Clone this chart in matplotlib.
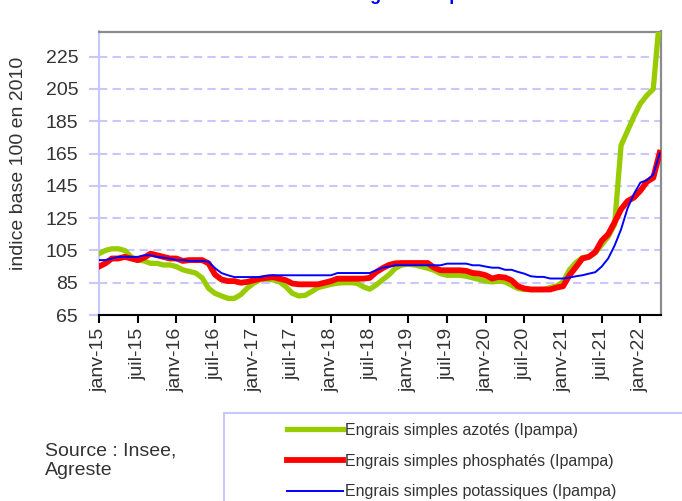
import numpy as np
import matplotlib
matplotlib.use("Agg")
import matplotlib.pyplot as plt
from matplotlib.patches import Rectangle

plt.rcParams['font.family'] = ['Liberation Sans', 'DejaVu Sans']

# Monthly index values, janv-2015 .. avr-2022 (base 100 en 2010)
azotes = [103, 105, 106, 106, 105, 101, 99, 98.5, 97, 97, 96, 96,
          95, 93, 92, 91, 88, 81.5, 78.4, 76.8, 75.3, 75.3, 77.6, 81.6,
          84.7, 86.8, 87.2, 86.8, 85.6, 82.5, 78.4, 76.8, 77.2, 79.5, 82, 83,
          84, 84.7, 85, 85, 84.7, 82.5, 81, 83.6, 86.8, 89.9, 94, 96,
          96.5, 96, 95, 94, 92.7, 90.6, 89.6, 89.6, 89.6, 89, 88, 87,
          86, 85.5, 86, 85.5, 83.5, 81.4, 80.8, 80.8, 80.8, 80.8, 82, 83,
          85.5, 93, 97.5, 100.5, 101, 103.5, 108.5, 113.5, 121, 170, 179, 188,
          196, 201, 205, 250]

phosphates = [95, 97, 100, 100, 101, 100, 99, 100.5, 103, 102, 101, 100,
              100, 98.5, 99, 99, 99, 97, 90, 87, 86, 86, 85, 85.5,
              86.5, 87.5, 88, 88.5, 87.5, 86.5, 84.5, 84, 84, 84, 84, 85,
              86, 87.5, 87.5, 87.5, 87.5, 87.5, 88, 91.5, 94, 96, 97, 97.2,
              97.2, 97.2, 97.2, 97.2, 94.3, 92.7, 92.7, 92.7, 92.7, 92.3, 91, 90.6,
              89.6, 87.6, 88.6, 88.2, 86.5, 82.8, 81.4, 80.8, 80.8, 80.8, 80.8, 82,
              82.8, 89.6, 94.7, 100, 101, 104, 111, 115, 122.4, 130.5, 135.5, 137.8,
              142, 147.5, 150, 165.5]

potassiques = [99, 99, 100, 101, 101, 101, 101, 102, 102, 101, 100.5, 100,
               99, 99, 98.5, 98.5, 98.5, 98, 94, 91, 89.6, 88.5, 88.5, 88.5,
               88.5, 88.5, 89.4, 89.6, 89.6, 89.6, 89.6, 89.6, 89.6, 89.6, 89.6, 89.6,
               89.6, 91, 91, 91, 91, 91, 91, 92.7, 94.3, 95, 95.8, 95.8,
               95.8, 95.8, 95.8, 95.8, 95.8, 95.8, 96.8, 96.8, 96.8, 96.8, 95.8, 95.8,
               95, 94.3, 94.3, 93, 93, 91.7, 90.6, 89, 88.6, 88.6, 87.6, 87.6,
               87.6, 88.2, 89, 89.6, 90.6, 91.5, 95, 100, 108, 118, 131, 140,
               147, 148.5, 152, 165]

tick_labels = ['janv-15', 'juil-15', 'janv-16', 'juil-16', 'janv-17', 'juil-17',
               'janv-18', 'juil-18', 'janv-19', 'juil-19', 'janv-20', 'juil-20',
               'janv-21', 'juil-21', 'janv-22']
y_ticks = [65, 85, 105, 125, 145, 165, 185, 205, 225]

series_names = ['Engrais simples azotés (Ipampa)',
                'Engrais simples phosphatés (Ipampa)',
                'Engrais simples potassiques (Ipampa)']

W, H = 682, 501
fig = plt.figure(figsize=(W / 100, H / 100), dpi=100)
ax = fig.add_axes([99 / W, 1 - 315 / H, (661 - 99) / W, (315 - 31.5) / H])

months = np.arange(len(azotes))
l1, = ax.plot(months, azotes, color='#99cc00', lw=3.8, solid_joinstyle='round', zorder=3)
l2, = ax.plot(months, phosphates, color='#ff0000', lw=4.2, solid_joinstyle='round', zorder=4)
l3, = ax.plot(months, potassiques, color='#0000ff', lw=1.4, zorder=5)

ax.set_xlim(0, 87.2)
ax.set_ylim(65, 240.6)

ax.set_yticks(y_ticks)
ax.set_yticklabels([str(v) for v in y_ticks])
ax.set_xticks(np.arange(0, 6 * len(tick_labels), 6))
ax.set_xticklabels(tick_labels)

ax.yaxis.grid(True, color='#c8c8ff', linestyle=(0, (4, 2.5)), lw=1.5)
ax.set_axisbelow(True)

ax.spines['left'].set_color('#c8c8ff')
ax.spines['left'].set_linewidth(1.5)
ax.spines['bottom'].set_color('black')
ax.spines['bottom'].set_linewidth(1.5)
for s in ('top', 'right'):
    ax.spines[s].set_color('#8c8c8c')
    ax.spines[s].set_linewidth(1.6)

ax.tick_params(axis='y', direction='out', length=7, width=1.5, color='#c8c8ff',
               labelsize=14, labelcolor='#333333', pad=8)
ax.tick_params(axis='x', direction='out', length=6, width=1.5, color='black',
               labelsize=14, labelcolor='#333333', labelrotation=90, pad=3)

fig.text(18.5 / W, 1 - 163 / H, 'indice base 100 en 2010', rotation=90,
         ha='center', va='center', fontsize=14, color='#333333')

# Title: only its descenders peek in at the top edge, as in the reference
fig.text(380 / W, 1.0, 'Prix des engrais simples', color='#0000ff',
         fontweight='bold', fontsize=13, ha='center', va='baseline')

fig.text(45 / W, 1 - 443 / H, 'Source : Insee,\nAgreste', ha='left', va='top',
         fontsize=14, color='#333333', linespacing=1.15)

box = Rectangle((224 / W, -0.2), 0.8, 0.2 + (1 - 413 / H), transform=fig.transFigure,
                facecolor='white', edgecolor='#c8c8ff', lw=1.5, zorder=1)
fig.add_artist(box)

fig.legend([l1, l2, l3], series_names, loc='upper left',
           bbox_to_anchor=(287 / W, 1 - 423 / H), frameon=False, fontsize=11.5,
           handlelength=3.5, handletextpad=0.12, labelspacing=0.98,
           borderpad=0, borderaxespad=0, labelcolor='#333333')

fig.savefig('out.png', dpi=100)
